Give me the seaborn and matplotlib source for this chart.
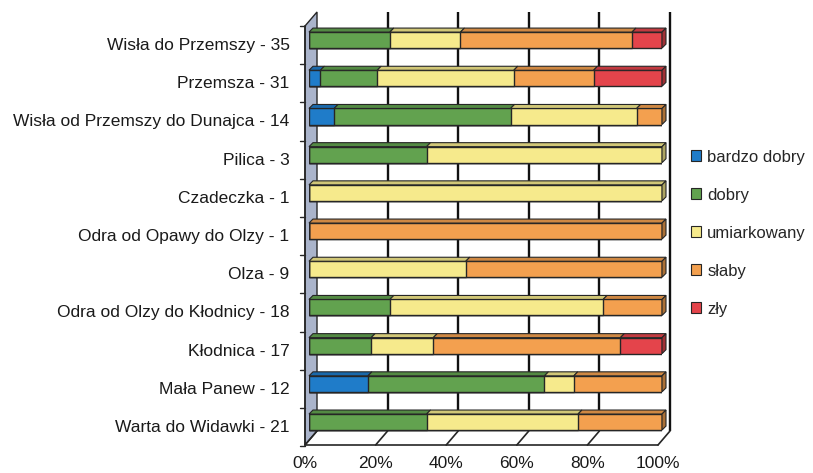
import numpy as np
import pandas as pd
import matplotlib
matplotlib.use("Agg")
import matplotlib.pyplot as plt
import seaborn as sns
from matplotlib.patches import Polygon, Patch
from matplotlib.transforms import ScaledTranslation, blended_transform_factory, IdentityTransform
from matplotlib.colors import to_rgb

# ---------------- data ----------------
rivers = ["Wisła do Przemszy - 35", "Przemsza - 31", "Wisła od Przemszy do Dunajca - 14",
          "Pilica - 3", "Czadeczka - 1", "Odra od Opawy do Olzy - 1", "Olza - 9",
          "Odra od Olzy do Kłodnicy - 18", "Kłodnica - 17", "Mała Panew - 12",
          "Warta do Widawki - 21"]
categories = ["bardzo dobry", "dobry", "umiarkowany", "słaby", "zły"]
bardzo_dobry = [0.0, 3.2, 7.1, 0.0, 0.0, 0.0, 0.0, 0.0, 0.0, 16.7, 0.0]
dobry        = [22.9, 16.1, 50.0, 33.3, 0.0, 0.0, 0.0, 22.9, 17.6, 50.0, 33.3]
umiarkowany  = [20.0, 38.7, 35.7, 66.7, 100.0, 0.0, 44.4, 60.4, 17.6, 8.3, 42.9]
slaby        = [48.6, 22.6, 7.2, 0.0, 0.0, 100.0, 55.6, 16.7, 53.0, 25.0, 23.8]
zly          = [8.5, 19.4, 0.0, 0.0, 0.0, 0.0, 0.0, 0.0, 11.8, 0.0, 0.0]
xtick_vals = [0, 20, 40, 60, 80, 100]
xtick_labels = ["0%", "20%", "40%", "60%", "80%", "100%"]

colors = ["#1f7cc9", "#62a24f", "#f6ea8c", "#f3a04f", "#e4444b"]

df = pd.DataFrame({"rzeka": rivers, "bardzo dobry": bardzo_dobry, "dobry": dobry,
                   "umiarkowany": umiarkowany, "słaby": slaby, "zły": zly})
cum = df[categories].cumsum(axis=1)

# ---------------- figure ----------------
sns.set_style("white")
plt.rcParams["font.family"] = ["Liberation Sans", "DejaVu Sans"]
DPI = 100
W, H = 813, 473
fig = plt.figure(figsize=(W / DPI, H / DPI), dpi=DPI)
ax_l, ax_r, ax_t, ax_b = 309, 662, 21, 440
ax = fig.add_axes([ax_l / W, 1 - ax_b / H, (ax_r - ax_l) / W, (ax_b - ax_t) / H])

edge = "#262626"
bar_h = 0.42
FS = 12.5

# stacked bars via cumulative overlay (largest first)
for k in reversed(range(len(categories))):
    sns.barplot(x=cum[categories[k]], y=df["rzeka"], orient="h", color=colors[k],
                saturation=1, width=bar_h, edgecolor=edge, linewidth=1.0,
                errorbar=None, ax=ax, zorder=2)

ax.set_xlim(0, 100)
ax.set_ylim(len(rivers) - 1 + 0.47, -0.5)
ax.set_xlabel("")
ax.set_ylabel("")
for s in ax.spines.values():
    s.set_visible(False)
ax.set_xticks([])
ax.tick_params(axis="y", length=0, pad=14, labelsize=FS, labelcolor="#1a1a1a")


def shift(dx, dy):
    return ScaledTranslation(dx / DPI, dy / DPI, fig.dpi_scale_trans)


for lab in ax.get_yticklabels():
    lab.set_transform(lab.get_transform() + shift(0, -4))

# pixel -> data conversion
px_x = 100 / (ax_r - ax_l)
row_px = (ax_b - ax_t) / (len(rivers) - 1 + 0.47 + 0.5)
px_y = 1 / row_px

front = shift(-4, -5)
back = shift(8, 9)

# back gridlines and right wall
for v in xtick_vals[1:]:
    ax.plot([v / 100, v / 100], [0, 1], color="#111111", lw=1.7,
            transform=ax.transAxes + back, zorder=0.5, clip_on=False,
            solid_capstyle="butt")

# left wall
p_fb = ax.transAxes.transform((0, 0)) + np.array([-4, -5])
p_ft = ax.transAxes.transform((0, 1)) + np.array([-4, -5])
p_bt = ax.transAxes.transform((0, 1)) + np.array([8, 9])
p_bb = ax.transAxes.transform((0, 0)) + np.array([8, 9])
wall = Polygon([p_fb, p_ft, p_bt, p_bb], closed=True, facecolor="#aab4cb",
               edgecolor=edge, lw=1.0, transform=IdentityTransform(), zorder=0.6,
               clip_on=False)
ax.add_patch(wall)

# front axis lines
ax.plot([0, 1], [0, 0], color=edge, lw=1.2, transform=ax.transAxes + front,
        clip_on=False, zorder=0.7)
ax.plot([0, 0], [0, 1], color=edge, lw=1.2, transform=ax.transAxes + front,
        clip_on=False, zorder=0.7)
# diagonal floor ticks
for v in xtick_vals:
    a = ax.transAxes.transform((v / 100, 0))
    ax.add_line(plt.Line2D([a[0] - 4, a[0] + 8], [a[1] - 5, a[1] + 9],
                           color=edge, lw=1.2, transform=IdentityTransform(),
                           zorder=0.7, clip_on=False))
# y-axis small ticks at row boundaries
bt = blended_transform_factory(ax.transAxes, ax.transData) + front
for i in range(len(rivers) + 1):
    ax.plot([-0.014, 0], [i - 0.5, i - 0.5], color=edge, lw=1.0, transform=bt,
            clip_on=False, zorder=0.7)

# x tick labels on the front floor
tt = blended_transform_factory(ax.transData, ax.transAxes) + shift(-4, -23)
for v, lab in zip(xtick_vals, xtick_labels):
    ax.text(v, 0, lab, transform=tt, ha="center", va="center", fontsize=FS,
            color="#1a1a1a")

# 3D top / side faces of bars
dxd = 4 * px_x
dyd = 4 * px_y


def shade(c, f):
    r, g, b = to_rgb(c)
    return (r * f, g * f, b * f)


for i in range(len(rivers)):
    yt = i - bar_h / 2
    yb = i + bar_h / 2
    last = None
    for k, cat in enumerate(categories):
        val = df.loc[i, cat]
        if val <= 0:
            continue
        right = cum.loc[i, cat]
        left = right - val
        ax.add_patch(Polygon([(left, yt), (right, yt), (right + dxd, yt - dyd),
                              (left + dxd, yt - dyd)], closed=True,
                             facecolor=shade(colors[k], 0.85), edgecolor=edge,
                             lw=0.8, zorder=3, clip_on=False))
        last = (right, k)
    if last is not None:
        R, k = last
        ax.add_patch(Polygon([(R, yt), (R, yb), (R + dxd, yb - dyd), (R + dxd, yt - dyd)],
                             closed=True, facecolor=shade(colors[k], 0.7),
                             edgecolor=edge, lw=0.8, zorder=3, clip_on=False))

# legend
handles = [Patch(facecolor=c, edgecolor=edge, lw=0.8) for c in colors]
fig.legend(handles, categories, loc="upper left",
           bbox_to_anchor=(684 / W, 1 - 143 / H), frameon=False, fontsize=12,
           handlelength=0.6, handleheight=0.6, handletextpad=0.4,
           labelspacing=1.38, borderaxespad=0)

fig.savefig("out.png", dpi=DPI)
